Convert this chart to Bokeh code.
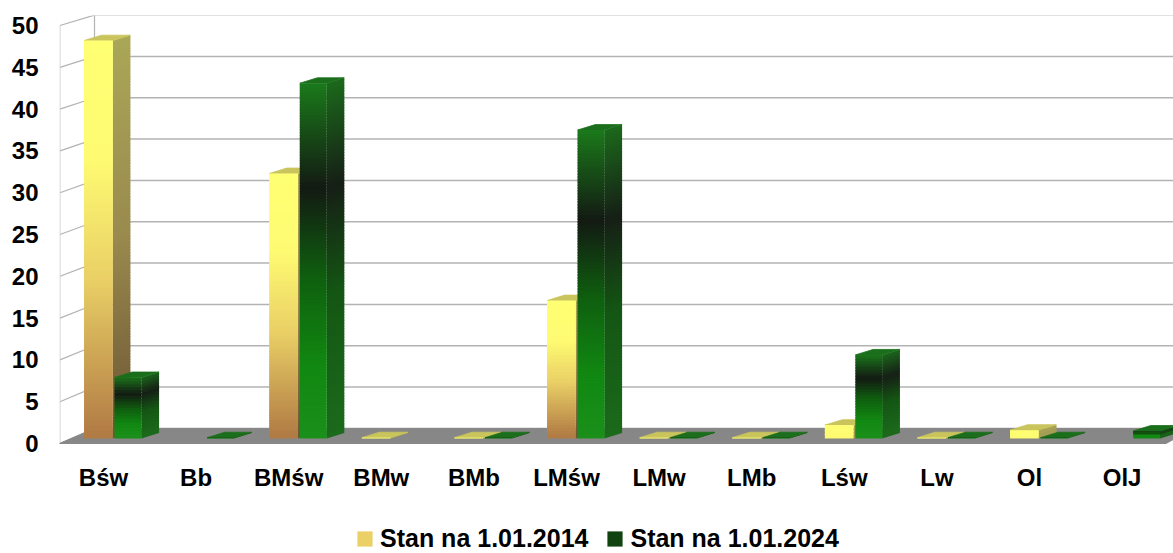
import numpy as np
from bokeh.plotting import figure
from bokeh.models import Range1d, FixedTicker, Legend, LegendItem
from bokeh.core.properties import value
from bokeh.embed import file_html
from bokeh.resources import INLINE

# ---------------- data ----------------
categories = ["Bśw", "Bb", "BMśw", "BMw", "BMb", "LMśw", "LMw", "LMb", "Lśw", "Lw", "Ol", "OlJ"]
stan_2014 = [47.6, 0.0, 31.7, 0.1, 0.1, 16.5, 0.1, 0.1, 1.6, 0.1, 1.0, 0.0]
stan_2024 = [7.3, 0.1, 42.5, 0.0, 0.1, 36.9, 0.1, 0.1, 10.0, 0.1, 0.1, 0.9]
series_labels = ["Stan na 1.01.2014", "Stan na 1.01.2024"]
y_ticks = [0, 5, 10, 15, 20, 25, 30, 35, 40, 45, 50]

# ---------------- style / geometry ----------------
FONT = "Liberation Sans"
BASE = 0.6           # bar bottom (bars stand set back on the floor)
DX, DY = 0.19, 0.65  # 3D depth offsets of bars
X_LEFT, X_RIGHT = -0.475, 11.555
X_BACK = -0.097
WALL_DY, WALL_SCALE = 1.8, 0.989
LABEL_Y = -4.1       # category label row (below the floor)

def hex2rgb(h):
    h = h.lstrip("#")
    return np.array([int(h[i:i + 2], 16) for i in (0, 2, 4)], dtype=float)

def interp(stops, t):
    for (t0, c0), (t1, c1) in zip(stops[:-1], stops[1:]):
        if t <= t1:
            f = 0 if t1 == t0 else (t - t0) / (t1 - t0)
            c = hex2rgb(c0) * (1 - f) + hex2rgb(c1) * f
            return "#%02x%02x%02x" % tuple(int(round(v)) for v in c)
    return stops[-1][1]

yellow_front = [(0, "#ffff73"), (0.3, "#fefb72"), (0.6, "#ead066"), (1.0, "#b07a44")]
yellow_side = [(0, "#aaa757"), (0.5, "#9a8a4e"), (1.0, "#6c5634")]
yellow_top = "#c9c45c"
green_front = [(0, "#1b7b1b"), (0.3, "#131a13"), (0.55, "#0f5f0f"), (0.8, "#118811"), (1.0, "#1a901a")]
green_side = [(0, "#1c6a1c"), (0.3, "#161f16"), (0.6, "#145614"), (1.0, "#1c6a1c")]
green_top = "#1b6e1b"

p = figure(width=1173, height=553, output_backend="svg", toolbar_location=None,
           x_range=Range1d(X_LEFT, X_RIGHT), y_range=Range1d(-13.16, 51.2),
           min_border_left=59, min_border_right=0, min_border_top=15, min_border_bottom=0,
           background_fill_color="white", border_fill_color="white", outline_line_color=None)
p.xgrid.visible = False
p.ygrid.visible = False
p.xaxis.visible = False

# y axis
p.yaxis.ticker = FixedTicker(ticks=y_ticks)
p.yaxis.major_label_text_font = FONT
p.yaxis.major_label_text_font_style = "bold"
p.yaxis.major_label_text_font_size = "24px"
p.yaxis.major_label_text_color = "black"
p.yaxis.major_label_standoff = 15
p.yaxis.axis_line_color = None
p.yaxis.major_tick_line_color = None
p.yaxis.minor_tick_line_color = None

# back wall grid lines and slanted tick lines
wall_y = [WALL_DY + WALL_SCALE * v for v in y_ticks]
p.segment(x0=[X_BACK] * len(y_ticks), y0=wall_y, x1=[X_RIGHT] * len(y_ticks), y1=wall_y,
          line_color="#b3b3b3", line_width=1.5)
p.segment(x0=[X_LEFT + 0.005] * len(y_ticks), y0=y_ticks, x1=[X_BACK] * len(y_ticks), y1=wall_y,
          line_color="#b3b3b3", line_width=1.2)
p.segment(x0=[X_BACK], y0=[wall_y[0]], x1=[X_BACK], y1=[wall_y[-1]], line_color="#b3b3b3", line_width=1.2)
p.segment(x0=[X_LEFT + 0.005], y0=[y_ticks[0]], x1=[X_LEFT + 0.005], y1=[y_ticks[-1]],
          line_color="#c8c8c8", line_width=1.0)

# floor
p.patch(x=[X_LEFT, X_BACK, X_RIGHT, X_RIGHT, X_RIGHT - 0.08], y=[0, WALL_DY, WALL_DY, 0.5, 0],
        fill_color="#878787", line_color="#878787")


def draw_series(values, off0, off1, fstops, sstops, tcolor, short_scale=None, legend_t=0.5):
    fl, fr, fb, ft, fc = [], [], [], [], []
    sxs, sys, sc = [], [], []
    txs, tys = [], []
    legend_idx, best = 0, 9.0
    for i, v in enumerate(values):
        if v <= 0:
            continue
        x0, x1 = i + off0, i + off1
        top = BASE + v
        n = max(3, int(v * 3))
        h = v / n
        sc_f = 1.0 if short_scale is None else min(1.0, v / short_scale)
        for k in range(n):
            t0, t1 = k / n, (k + 1) / n
            ya = BASE + v * (1 - t1)
            yb = BASE + v * (1 - t0) + (0.6 * h if k > 0 else 0)
            tm = (t0 + t1) / 2 * sc_f
            if abs(tm - legend_t) < best:
                best, legend_idx = abs(tm - legend_t), len(fc)
            fl.append(x0); fr.append(x1); fb.append(ya); ft.append(yb)
            fc.append(interp(fstops, tm))
            sxs.append([x1, x1, x1 + DX, x1 + DX])
            sys.append([ya, yb, yb + DY, ya + DY])
            sc.append(interp(sstops, tm))
        txs.append([x0, x1, x1 + DX, x0 + DX])
        tys.append([top, top, top + DY, top + DY])
    p.patches(xs=sxs, ys=sys, fill_color=sc, line_color=None)
    p.patches(xs=txs, ys=tys, fill_color=tcolor, line_color=tcolor, line_width=0.8)
    r = p.quad(left=fl, right=fr, bottom=fb, top=ft, fill_color=fc, line_color=None)
    return r, legend_idx


r1, i1 = draw_series(stan_2014, -0.21, 0.10, yellow_front, yellow_side, yellow_top,
                     short_scale=5, legend_t=0.6)
r2, i2 = draw_series(stan_2024, 0.12, 0.41, green_front, green_side, green_top, legend_t=0.45)

# category labels
p.text(x=list(range(len(categories))), y=[LABEL_Y] * len(categories), text=categories,
       text_font=value(FONT), text_font_style="bold", text_font_size="24px",
       text_color="black", text_align="center", text_baseline="middle")

legend = Legend(items=[LegendItem(label=series_labels[0], renderers=[r1], index=i1),
                       LegendItem(label=series_labels[1], renderers=[r2], index=i2)],
                orientation="horizontal", location=(296, 0),
                label_text_font=FONT, label_text_font_style="bold", label_text_font_size="25px",
                label_text_color="black", glyph_width=19, glyph_height=19, label_height=22,
                label_standoff=6, spacing=17, padding=0, margin=0,
                border_line_color=None, background_fill_alpha=0)
p.add_layout(legend, "center")

open("out.html", "w").write(file_html(p, INLINE))
